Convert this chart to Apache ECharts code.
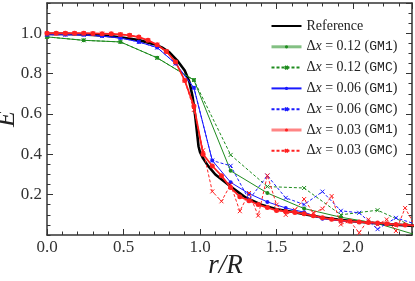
<!DOCTYPE html>
<html><head><meta charset="utf-8">
<script src="https://cdn.jsdelivr.net/npm/echarts@6/dist/echarts.min.js"></script>
<style>html,body{margin:0;padding:0;background:#fff}#c{width:415px;height:281px}</style>
</head><body><div id="c"></div>
<script>
// ---- data ----
const xTicks = [0.0, 0.5, 1.0, 1.5, 2.0];
const yTicks = [0.2, 0.4, 0.6, 0.8, 1.0];

const rRef = [0,0.1,0.2,0.3,0.4,0.5,0.6,0.7,0.75,0.8,0.85,0.9,0.93,0.95,0.96,0.97,0.98,0.99,1.0,1.02,1.05,1.1,1.15,1.2,1.3,1.4,1.5,1.6,1.7,1.8,1.9,2.0,2.2,2.4];
const eRef = [0.997,0.997,0.995,0.992,0.987,0.978,0.966,0.946,0.93,0.905,0.866,0.815,0.76,0.69,0.64,0.58,0.51,0.44,0.41,0.38,0.345,0.30,0.27,0.24,0.185,0.15,0.128,0.115,0.1,0.087,0.077,0.068,0.055,0.045];

const r012 = [0,0.24,0.48,0.72,0.96,1.2,1.44,1.68,1.92,2.16,2.4];
const e012GM1 = [0.982,0.965,0.957,0.878,0.768,0.318,0.208,0.131,0.088,0.057,0.003];
const e012GMC = [0.982,0.965,0.957,0.878,0.768,0.397,0.24,0.233,0.10,0.123,0.04];

const r006 = [0,0.12,0.24,0.36,0.48,0.6,0.72,0.84,0.96,1.08,1.2,1.32,1.44,1.56,1.68,1.8,1.92,2.04,2.16,2.28,2.4];
const e006GM1 = [0.993,0.993,0.992,0.986,0.977,0.957,0.929,0.85,0.73,0.369,0.261,0.205,0.164,0.134,0.113,0.08,0.07,0.064,0.057,0.052,0.047];
const e006GMC = [0.993,0.993,0.992,0.986,0.977,0.957,0.929,0.85,0.73,0.369,0.343,0.175,0.294,0.184,0.151,0.215,0.12,0.11,0.029,0.085,0.056];

const r003 = [0,0.06,0.12,0.18,0.24,0.3,0.36,0.42,0.48,0.54,0.6,0.66,0.72,0.78,0.84,0.9,0.96,1.02,1.08,1.14,1.2,1.26,1.32,1.38,1.44,1.5,1.56,1.62,1.68,1.74,1.8,1.86,1.92,1.98,2.04,2.1,2.16,2.22,2.28,2.34,2.4];
const e003GM1 = [1.0,1.0,1.0,1.0,1.0,0.999,0.998,0.997,0.994,0.99,0.981,0.965,0.943,0.91,0.858,0.766,0.64,0.40,0.342,0.294,0.235,0.19,0.17,0.151,0.136,0.122,0.117,0.112,0.105,0.096,0.085,0.078,0.072,0.068,0.065,0.062,0.06,0.056,0.052,0.05,0.047];
const e003GMC = [1.0,1.0,1.0,1.0,1.0,0.999,0.998,0.997,0.994,0.99,0.981,0.965,0.943,0.91,0.858,0.766,0.62,0.42,0.216,0.167,0.25,0.118,0.208,0.096,0.295,0.15,0.10,0.125,0.178,0.11,0.13,0.193,0.052,0.068,0.011,0.077,0.052,0.077,0.02,0.134,0.052];

// ---- chart ----
const SERIF = "'Times New Roman','Liberation Serif',serif";
const MONO = "'Liberation Mono','DejaVu Sans Mono',monospace";
const XMAX = 2.385, YMAX = 1.15;
const GREEN = '#1e8c1e', BLUE = '#1a1aff', RED = '#ff2020';
const X_PATH = 'path://M0,0L10,10M10,0L0,10';

function pairs(xs, ys){ return xs.map((x,i)=>[x, ys[i]]); }

const names = ['Reference','d012GM1','d012GMC','d006GM1','d006GMC','d003GM1','d003GMC'];
const labels = {
  'Reference': '{t|Reference}',
  'd012GM1': '{t|Δ}{i|x}{t| = 0.12 (}{m|GM1}{t|)}',
  'd012GMC': '{t|Δ}{i|x}{t| = 0.12 (}{m|GMC}{t|)}',
  'd006GM1': '{t|Δ}{i|x}{t| = 0.06 (}{m|GM1}{t|)}',
  'd006GMC': '{t|Δ}{i|x}{t| = 0.06 (}{m|GMC}{t|)}',
  'd003GM1': '{t|Δ}{i|x}{t| = 0.03 (}{m|GM1}{t|)}',
  'd003GMC': '{t|Δ}{i|x}{t| = 0.03 (}{m|GMC}{t|)}'
};

function lineSeries(name, xs, ys, color, dashed, marker, width, msize){
  return {
    name, type:'line', data: pairs(xs, ys), xAxisIndex:0, yAxisIndex:0,
    symbol: marker === 'x' ? X_PATH : 'circle',
    symbolSize: msize,
    showSymbol: true,
    lineStyle: {color, width, type: dashed ? [3,2] : 'solid'},
    itemStyle: {color, borderColor: color, borderWidth: marker === 'x' ? 1 : 0},
    emphasis: {disabled:true}, animation:false, clip:true, z: 3
  };
}

const tickStyle = {color:'#333', width:1};
function xAx(pos, interval, len, labels, line){
  return {type:'value', position:pos, min:0, max:XMAX, interval,
    axisLine:{show:line, onZero:false, lineStyle:{color:'#333', width:1.5}},
    axisTick:{show:true, inside:true, length:len, lineStyle:tickStyle},
    axisLabel:{show:labels, formatter:v=>v.toFixed(1), fontFamily:SERIF, fontSize:17, color:'#333', margin:4, showMaxLabel:false},
    splitLine:{show:false}};
}
function yAx(pos, interval, len, labels, line){
  return {type:'value', position:pos, min:0, max:YMAX, interval,
    axisLine:{show:line, onZero:false, lineStyle:{color:'#333', width:1.5}},
    axisTick:{show:true, inside:true, length:len, lineStyle:tickStyle},
    axisLabel:{show:labels, formatter:v=> (Math.abs(v)<1e-9 ? '' : v.toFixed(1)), fontFamily:SERIF, fontSize:17, color:'#333', margin:5, showMaxLabel:false, showMinLabel:false},
    splitLine:{show:false}};
}

const xAxes = [xAx('bottom',0.5,6,true,true), xAx('bottom',0.1,3.5,false,false), xAx('top',0.5,6,false,true), xAx('top',0.1,3.5,false,false)];
Object.assign(xAxes[0], {name:'r/R', nameLocation:'middle', nameGap:17, nameMoveOverlap:false, nameTextStyle:{fontFamily:SERIF, fontStyle:'italic', fontSize:27, color:'#222', verticalAlign:'top', padding:[0,8,0,0]}});
const yAxes = [yAx('left',0.2,6,true,true), yAx('left',0.05,3.5,false,false), yAx('right',0.2,6,false,true), yAx('right',0.05,3.5,false,false)];
Object.assign(yAxes[0], {name:'E', nameLocation:'middle', nameGap:27, nameRotate:90, nameMoveOverlap:false, nameTextStyle:{fontFamily:SERIF, fontStyle:'italic', fontSize:26, color:'#222'}});

const option = {
  animation:false,
  backgroundColor:'#fff',
  grid:{left:47, right:3, top:3, bottom:46, containLabel:false, outerBoundsMode:'none'},
  xAxis: xAxes,
  yAxis: yAxes,
  legend:{
    left:265, top:14, orient:'vertical', itemWidth:30, itemHeight:4, itemGap:6.8,
    data: names.map(n => {
      const d = {name:n};
      if (n==='d012GM1' || n==='d003GM1') d.lineStyle = {width:3, opacity:0.55};
      if (n==='Reference') d.itemStyle = {opacity:0};
      return d;
    }),
    formatter: n => labels[n],
    textStyle:{fontFamily:SERIF, fontSize:14, color:'#222', lineHeight:14,
      rich:{ t:{fontFamily:SERIF, fontSize:14, color:'#222'},
             i:{fontFamily:SERIF, fontStyle:'italic', fontSize:14, color:'#222'},
             m:{fontFamily:MONO, fontSize:13, color:'#222'} }},
    selectedMode:false
  },
  series:[
    {name:'Reference', type:'line', data:pairs(rRef,eRef), showSymbol:false, symbol:'none',
     lineStyle:{color:'#000', width:2.6}, itemStyle:{color:'#000'}, emphasis:{disabled:true}, z:2, animation:false},
    lineSeries('d012GM1', r012, e012GM1, GREEN, false, 'o', 1, 4),
    lineSeries('d012GMC', r012, e012GMC, GREEN, true, 'x', 1, 4),
    lineSeries('d006GM1', r006, e006GM1, BLUE, false, 'o', 1, 4),
    lineSeries('d006GMC', r006, e006GMC, BLUE, true, 'x', 1, 4),
    lineSeries('d003GM1', r003, e003GM1, RED, false, 'o', 1.8, 5),
    lineSeries('d003GMC', r003, e003GMC, RED, true, 'x', 1, 4)
  ]
};
const chart = echarts.init(document.getElementById('c'), null, {renderer:'canvas'});
chart.setOption(option);
</script></body></html>
